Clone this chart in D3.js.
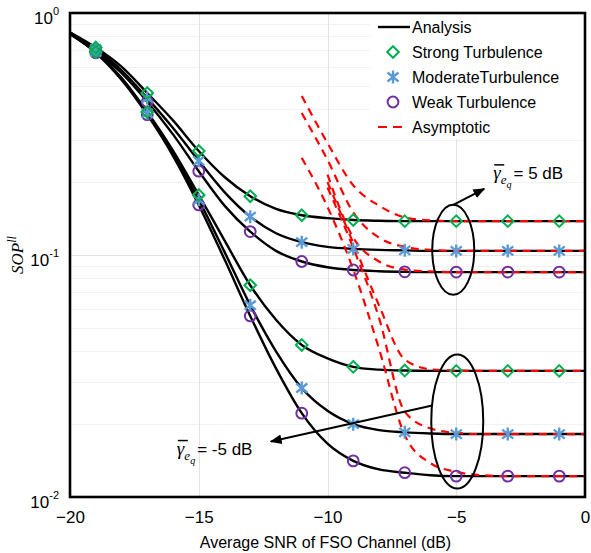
<!DOCTYPE html>
<html>
<head>
<meta charset="utf-8">
<script src="https://cdn.jsdelivr.net/npm/d3@7"></script>
<style>
  body { margin: 0; background: #fff; }
</style>
</head>
<body>
<div class="sopChart"></div>
<script>
// ---- data ----
const snr = [-20, -19, -18, -17, -16, -15, -14, -13, -12, -11, -10, -9, -8, -7, -6, -5, -4, -3, -2, -1, 0]
// analysis, gamma_eq = 5 dB
const strong5   = [0.83, 0.72, 0.60, 0.467, 0.36, 0.269, 0.21, 0.175, 0.155, 0.146, 0.142, 0.1395, 0.1385, 0.138, 0.138, 0.138, 0.138, 0.138, 0.138, 0.138, 0.138]
const moderate5 = [0.83, 0.71, 0.58, 0.445, 0.335, 0.245, 0.182, 0.144, 0.123, 0.113, 0.108, 0.106, 0.105, 0.1045, 0.104, 0.104, 0.104, 0.104, 0.104, 0.104, 0.104]
const weak5     = [0.83, 0.70, 0.565, 0.43, 0.315, 0.222, 0.16, 0.125, 0.104, 0.094, 0.089, 0.0867, 0.0857, 0.0852, 0.085, 0.085, 0.085, 0.085, 0.085, 0.085, 0.085]
// analysis, gamma_eq = -5 dB
const strongM5   = [0.82, 0.69, 0.54, 0.39, 0.27, 0.177, 0.115, 0.075, 0.054, 0.0425, 0.0374, 0.0345, 0.0336, 0.0333, 0.0332, 0.0332, 0.0332, 0.0332, 0.0332, 0.0332, 0.0332]
const moderateM5 = [0.82, 0.69, 0.535, 0.385, 0.262, 0.169, 0.103, 0.062, 0.040, 0.0282, 0.0227, 0.020, 0.0189, 0.0185, 0.0183, 0.0182, 0.0182, 0.0182, 0.0182, 0.0182, 0.0182]
const weakM5     = [0.82, 0.685, 0.53, 0.38, 0.257, 0.161, 0.096, 0.056, 0.034, 0.0222, 0.0166, 0.0141, 0.013, 0.0126, 0.0123, 0.0122, 0.0122, 0.0122, 0.0122, 0.0122, 0.0122]

// simulation points
const markerSnr = [-19, -17, -15, -13, -11, -9, -7, -5, -3, -1]

// asymptotic curves
const asymSnr = [-11, -10, -9, -8, -7, -6, -5, -4, -3, -2, -1, 0]
const asymStrong5    = [0.454, 0.29, 0.194, 0.16, 0.143, 0.139, 0.138, 0.138, 0.138, 0.138, 0.138, 0.138]
const asymModerate5  = [0.386, 0.247, 0.15, 0.118, 0.108, 0.105, 0.104, 0.104, 0.104, 0.104, 0.104, 0.104]
const asymWeak5      = [null, 0.215, 0.118, 0.094, 0.087, 0.0855, 0.085, 0.085, 0.085, 0.085, 0.085, 0.085]
const asymStrongM5   = [null, 0.20, 0.112, 0.062, 0.037, 0.0337, 0.0333, 0.0332, 0.0332, 0.0332, 0.0332, 0.0332]
const asymModerateM5 = [null, 0.19, 0.107, 0.055, 0.0225, 0.0192, 0.0184, 0.0182, 0.0182, 0.0182, 0.0182, 0.0182]
const asymWeakM5     = [0.252, 0.158, 0.087, 0.041, 0.018, 0.0138, 0.0127, 0.0123, 0.0122, 0.0122, 0.0122, 0.0122]

const xTicks = [-20, -15, -10, -5, 0]
const yTicks = [0.01, 0.1, 1]
const yTickExp = ['-2', '-1', '0']
const legendLabels = ['Analysis', 'Strong Turbulence', 'ModerateTurbulence', 'Weak Turbulence', 'Asymptotic']

// ---- layout ----
let width = 591
let height = 553
let margin = {top: 13, right: 6, bottom: 56, left: 70}

const green = '#00b050'
const blue = '#5b9bd5'
const purple = '#7030a0'
const sans = '"Liberation Sans", Arial, sans-serif'
const serif = '"Liberation Serif", "DejaVu Serif", serif'

let x = d3.scaleLinear()
  .domain([-20, 0])
  .range([margin.left, width - margin.right])

let y = d3.scaleLog()
  .domain([0.01, 1])
  .range([height - margin.bottom, margin.top])

const svg = d3.select('.sopChart').append('svg')
  .attr('width', width)
  .attr('height', height)
  .attr('viewBox', [0, 0, width, height])

// grid: minor log lines + vertical lines
let minor = []
for (let d of [0.01, 0.1]) for (let k = 2; k <= 9; k++) minor.push(d * k)

svg.append('g')
  .attr('stroke', '#f2f2f2')
  .attr('stroke-width', 1)
  .selectAll('line')
  .data(minor)
  .join('line')
    .attr('x1', x(-20)).attr('x2', x(0))
    .attr('y1', d => Math.round(y(d)) + 0.5)
    .attr('y2', d => Math.round(y(d)) + 0.5)

svg.append('g')
  .attr('stroke', '#e2e2e2')
  .attr('stroke-width', 1)
  .call(g => g.selectAll('line.v')
    .data([-15, -10, -5])
    .join('line')
      .attr('class', 'v')
      .attr('x1', d => Math.round(x(d)) + 0.5).attr('x2', d => Math.round(x(d)) + 0.5)
      .attr('y1', y(1)).attr('y2', y(0.01)))
  .call(g => g.append('line')
      .attr('x1', x(-20)).attr('x2', x(0))
      .attr('y1', Math.round(y(0.1)) + 0.5).attr('y2', Math.round(y(0.1)) + 0.5))

// legend background hides the grid behind it
svg.append('rect')
  .attr('x', 370).attr('y', margin.top + 2)
  .attr('width', 214).attr('height', 124)
  .attr('fill', '#fff')

// analysis curves
const series = [
  {name: 'strong5', vals: strong5, kind: 'strong'},
  {name: 'moderate5', vals: moderate5, kind: 'moderate'},
  {name: 'weak5', vals: weak5, kind: 'weak'},
  {name: 'strongM5', vals: strongM5, kind: 'strong'},
  {name: 'moderateM5', vals: moderateM5, kind: 'moderate'},
  {name: 'weakM5', vals: weakM5, kind: 'weak'}
]

let line = d3.line()
  .defined(d => d[1] != null)
  .x(d => x(d[0]))
  .y(d => y(d[1]))
  .curve(d3.curveMonotoneX)

svg.append('g')
    .attr('fill', 'none')
    .attr('stroke', '#000')
    .attr('stroke-width', 2.4)
  .selectAll('path')
  .data(series)
  .join('path')
    .attr('d', s => line(snr.map((v, i) => [v, s.vals[i]])))

// asymptotic curves
const asym = [asymStrong5, asymModerate5, asymWeak5, asymStrongM5, asymModerateM5, asymWeakM5]

svg.append('g')
    .attr('fill', 'none')
    .attr('stroke', '#ff0000')
    .attr('stroke-width', 2.2)
    .attr('stroke-dasharray', '8,6')
  .selectAll('path')
  .data(asym)
  .join('path')
    .attr('d', a => line(asymSnr.map((v, i) => [v, a[i]])))

// markers
const drawMarker = (g, kind) => {
  if (kind === 'strong') {
    g.append('path')
      .attr('d', 'M0,-5.8L5.8,0L0,5.8L-5.8,0Z')
      .attr('fill', 'none').attr('stroke', green).attr('stroke-width', 2)
  } else if (kind === 'moderate') {
    g.append('path')
      .attr('d', 'M0,-6.5V6.5M-5.5,-4.5L5.5,4.5M-5.5,4.5L5.5,-4.5')
      .attr('fill', 'none').attr('stroke', blue).attr('stroke-width', 2.4)
  } else {
    g.append('circle')
      .attr('r', 5.4)
      .attr('fill', 'none').attr('stroke', purple).attr('stroke-width', 2)
  }
}

const markerLayer = svg.append('g')
for (let kind of ['weak', 'moderate', 'strong']) {
  for (let s of series.filter(s => s.kind === kind)) {
    markerSnr.forEach(m => {
      let v = s.vals[snr.indexOf(m)]
      let g = markerLayer.append('g')
        .attr('transform', `translate(${x(m)},${y(v)})`)
      drawMarker(g, kind)
    })
  }
}

// annotations: ellipses and arrows
svg.append('defs').append('marker')
    .attr('id', 'arrow')
    .attr('viewBox', '0 0 10 10')
    .attr('refX', 9).attr('refY', 5)
    .attr('markerWidth', 6).attr('markerHeight', 6)
    .attr('orient', 'auto-start-reverse')
  .append('path')
    .attr('d', 'M0,1L10,5L0,9Z')
    .attr('fill', '#000')

const annot = svg.append('g')
  .attr('fill', 'none')
  .attr('stroke', '#000')
  .attr('stroke-width', 2)

// upper ellipse around gamma_eq = 5 dB floors
let ux = x(-5) - 3, uy = y(0.105)
annot.append('ellipse').attr('cx', ux).attr('cy', uy).attr('rx', 21).attr('ry', 45)
annot.append('line')
  .attr('x1', ux).attr('y1', uy - 45)
  .attr('x2', ux + 31).attr('y2', uy - 61)
  .attr('marker-end', 'url(#arrow)')

// lower ellipse around gamma_eq = -5 dB floors
let lx = x(-5) + 1, ly = y(0.0205)
annot.append('ellipse').attr('cx', lx).attr('cy', ly).attr('rx', 26).attr('ry', 67)
annot.append('line')
  .attr('x1', lx - 25).attr('y1', ly - 16)
  .attr('x2', x(-12.2)).attr('y2', ly + 20)
  .attr('marker-end', 'url(#arrow)')

const gammaLabel = (tx, ty, rest) => {
  let t = svg.append('text')
    .attr('x', tx).attr('y', ty)
    .attr('font-family', serif)
    .attr('font-size', 19)
  t.append('tspan').attr('font-style', 'italic').text('γ')
  t.append('tspan').attr('font-style', 'italic').attr('font-size', 13).attr('dy', 5).text('e')
  t.append('tspan').attr('font-style', 'italic').attr('font-size', 10).attr('dy', 4).text('q')
  t.append('tspan').attr('font-family', sans).attr('font-size', 17).attr('dy', -9).attr('dx', 2).text(rest)
  svg.append('line')
    .attr('x1', tx + 1).attr('x2', tx + 11)
    .attr('y1', ty - 14).attr('y2', ty - 14)
    .attr('stroke', '#000').attr('stroke-width', 1.5)
}
gammaLabel(x(-5) + 37, uy - 71, '= 5 dB')
gammaLabel(x(-15.85), ly + 33, '= -5 dB')

// legend
const legend = svg.append('g')
  .attr('font-family', sans)
  .attr('font-size', 16)
  .attr('fill', '#000')

const legendY = d3.scalePoint().domain(legendLabels).range([27, 127])

legend.selectAll('text')
  .data(legendLabels)
  .join('text')
    .attr('x', 412)
    .attr('y', d => legendY(d))
    .attr('dy', '0.36em')
    .text(d => d)

legend.append('line')
  .attr('x1', 378).attr('x2', 410)
  .attr('y1', legendY('Analysis')).attr('y2', legendY('Analysis'))
  .attr('stroke', '#000').attr('stroke-width', 2.4)
legend.append('line')
  .attr('x1', 378).attr('x2', 408)
  .attr('y1', legendY('Asymptotic')).attr('y2', legendY('Asymptotic'))
  .attr('stroke', '#ff0000').attr('stroke-width', 2.2)
  .attr('stroke-dasharray', '9,6')
drawMarker(legend.append('g').attr('transform', `translate(393,${legendY('Strong Turbulence')})`), 'strong')
drawMarker(legend.append('g').attr('transform', `translate(393,${legendY('ModerateTurbulence')})`), 'moderate')
drawMarker(legend.append('g').attr('transform', `translate(393,${legendY('Weak Turbulence')})`), 'weak')

// axes
let xAxis = g => g
  .attr('transform', `translate(0,${height - margin.bottom})`)
  .call(d3.axisBottom(x).tickValues(xTicks).tickSize(0).tickPadding(14))
  .call(g => g.select('.domain').remove())
  .call(g => g.selectAll('text')
    .attr('font-family', sans).attr('font-size', 17).attr('fill', '#000'))

let yAxis = g => g
  .attr('transform', `translate(${margin.left},0)`)
  .call(d3.axisLeft(y).tickValues(yTicks).tickSize(0).tickFormat(''))
  .call(g => g.select('.domain').remove())
  .call(g => g.selectAll('.tick text').each(function (d, i) {
    let t = d3.select(this)
      .attr('x', -11).attr('dy', '0.6em')
      .attr('font-family', sans).attr('font-size', 17).attr('fill', '#000')
    t.append('tspan').text('10')
    t.append('tspan').attr('font-size', 11).attr('dy', '-0.75em').text(yTickExp[i])
  }))

svg.append('g').call(xAxis)
svg.append('g').call(yAxis)

// frame
svg.append('rect')
  .attr('x', x(-20)).attr('y', y(1))
  .attr('width', x(0) - x(-20)).attr('height', y(0.01) - y(1))
  .attr('fill', 'none').attr('stroke', '#000').attr('stroke-width', 2.6)

// titles
svg.append('text')
  .attr('x', (x(-20) + x(0)) / 2 - 2)
  .attr('y', height - 5)
  .attr('text-anchor', 'middle')
  .attr('font-family', sans).attr('font-size', 16)
  .text('Average SNR of FSO Channel (dB)')

let yTitle = svg.append('text')
  .attr('transform', `translate(23,${(y(1) + y(0.01)) / 2}) rotate(-90)`)
  .attr('text-anchor', 'middle')
  .attr('font-family', serif).attr('font-style', 'italic').attr('font-size', 17)
yTitle.append('tspan').text('SOP')
yTitle.append('tspan').attr('font-size', 12).attr('dy', -7).text('ll')
</script>
</body>
</html>
